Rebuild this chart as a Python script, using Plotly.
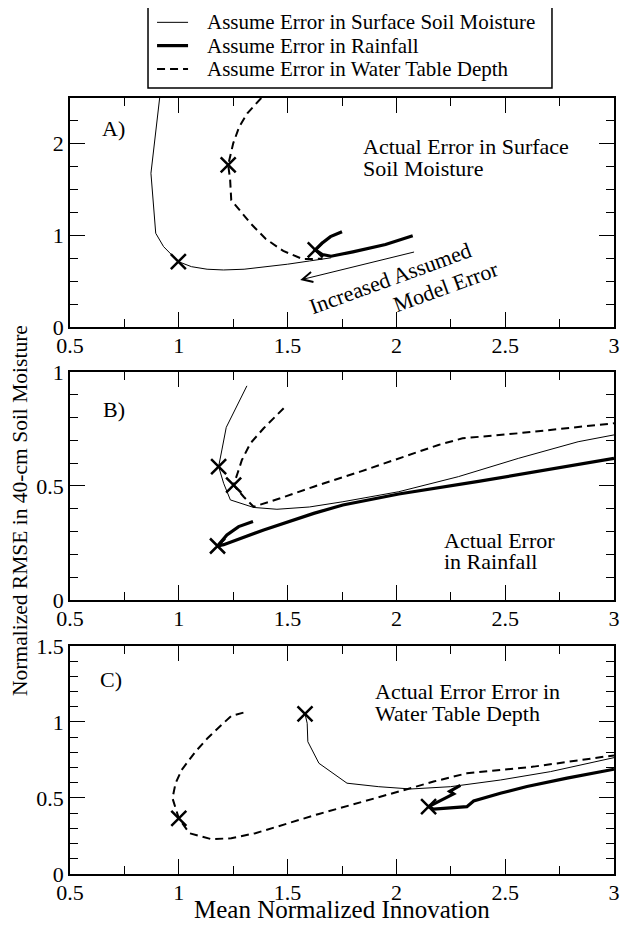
import plotly.graph_objects as go
from plotly.subplots import make_subplots

# panel A : actual error in surface soil moisture
a_soil_x = [0.912, 0.872, 0.894, 0.930, 0.998, 1.058, 1.130, 1.205, 1.300, 1.400, 1.500, 1.600, 1.700]
a_soil_y = [2.500, 1.678, 1.023, 0.877, 0.713, 0.658, 0.630, 0.622, 0.630, 0.655, 0.685, 0.720, 0.755]
a_rain_x = [1.750, 1.697, 1.658, 1.627, 1.660, 1.700, 1.800, 1.950, 2.075]
a_rain_y = [1.040, 0.986, 0.913, 0.841, 0.790, 0.772, 0.820, 0.900, 0.995]
a_wtd_x = [1.379, 1.315, 1.278, 1.250, 1.227, 1.236, 1.241, 1.330, 1.400, 1.480, 1.570, 1.660]
a_wtd_y = [2.500, 2.333, 2.187, 2.005, 1.769, 1.605, 1.386, 1.130, 0.960, 0.830, 0.740, 0.745]
a_mark_x = [0.998, 1.627, 1.227]
a_mark_y = [0.713, 0.841, 1.769]

# panel B : actual error in rainfall
b_soil_x = [1.313, 1.218, 1.198, 1.183, 1.206, 1.237, 1.344, 1.451, 1.600, 1.754, 2.011, 2.285, 2.560, 2.835, 3.000]
b_soil_y = [0.939, 0.757, 0.658, 0.585, 0.512, 0.439, 0.406, 0.398, 0.408, 0.431, 0.475, 0.541, 0.621, 0.694, 0.724]
b_rain_x = [1.341, 1.275, 1.221, 1.178, 1.206, 1.390, 1.620, 1.754, 2.011, 2.377, 3.000]
b_rain_y = [0.344, 0.322, 0.285, 0.237, 0.243, 0.307, 0.380, 0.417, 0.465, 0.520, 0.621]
b_wtd_x = [1.482, 1.443, 1.390, 1.329, 1.290, 1.270, 1.252, 1.298, 1.344, 1.466, 1.620, 1.834, 2.011, 2.193, 2.304, 2.560, 3.000]
b_wtd_y = [0.841, 0.804, 0.753, 0.687, 0.614, 0.556, 0.504, 0.453, 0.409, 0.446, 0.497, 0.563, 0.620, 0.680, 0.709, 0.731, 0.775]
b_mark_x = [1.183, 1.178, 1.252]
b_mark_y = [0.585, 0.237, 0.504]

# panel C : actual error in water table depth
c_soil_x = [1.580, 1.590, 1.593, 1.644, 1.773, 1.919, 2.066, 2.248, 2.478, 2.708, 3.000]
c_soil_y = [1.053, 0.991, 0.870, 0.728, 0.597, 0.574, 0.559, 0.574, 0.618, 0.673, 0.765]
c_rain_x = [2.294, 2.245, 2.263, 2.171, 2.148, 2.171, 2.324, 2.355, 2.478, 2.600, 2.784, 3.000]
c_rain_y = [0.583, 0.544, 0.527, 0.462, 0.443, 0.426, 0.443, 0.480, 0.531, 0.575, 0.630, 0.689]
c_wtd_x = [1.297, 1.241, 1.196, 1.132, 1.077, 1.013, 0.985, 0.971, 1.000, 1.049, 1.150, 1.241, 1.352, 1.644, 2.011, 2.171, 2.324, 2.631, 3.000]
c_wtd_y = [1.061, 1.039, 0.980, 0.893, 0.805, 0.684, 0.596, 0.498, 0.366, 0.268, 0.229, 0.235, 0.268, 0.395, 0.542, 0.608, 0.662, 0.706, 0.780]
c_mark_x = [1.580, 2.148, 1.000]
c_mark_y = [1.053, 0.443, 0.366]

names = ["Assume Error in Surface Soil Moisture",
         "Assume Error in Rainfall",
         "Assume Error in Water Table Depth"]

FONT = "Liberation Serif"

soil_line = dict(color = "black", width = 1)
rain_line = dict(color = "black", width = 3.2)
wtd_line = dict(color = "black", width = 2, dash = "8px,5px")

panels = [
    (a_soil_x, a_soil_y, a_rain_x, a_rain_y, a_wtd_x, a_wtd_y, a_mark_x, a_mark_y),
    (b_soil_x, b_soil_y, b_rain_x, b_rain_y, b_wtd_x, b_wtd_y, b_mark_x, b_mark_y),
    (c_soil_x, c_soil_y, c_rain_x, c_rain_y, c_wtd_x, c_wtd_y, c_mark_x, c_mark_y),
]

fig = make_subplots(rows = 3, cols = 1)

for i, p in enumerate(panels):
    row = i + 1
    sx, sy, rx, ry, wx, wy, mx, my = p

    fig.add_vline(x = 1, line_width = 1, line_color = "black", row = row, col = 1)

    fig.add_trace(go.Scatter(x = sx, y = sy, mode = "lines", line = soil_line,
                             name = names[0]), row = row, col = 1)
    fig.add_trace(go.Scatter(x = rx, y = ry, mode = "lines", line = rain_line,
                             name = names[1]), row = row, col = 1)
    fig.add_trace(go.Scatter(x = wx, y = wy, mode = "lines", line = wtd_line,
                             name = names[2]), row = row, col = 1)
    fig.add_trace(go.Scatter(x = mx, y = my, mode = "markers",
                             marker = dict(symbol = "x-thin", size = 15,
                                           line = dict(color = "black", width = 2.5))),
                  row = row, col = 1)

axis_style = dict(showline = True, linecolor = "black", linewidth = 1.5, mirror = "ticks",
                  ticks = "inside", ticklen = 15, tickwidth = 1.2, tickcolor = "black",
                  showgrid = False, zeroline = False,
                  tickfont = dict(family = FONT, size = 22, color = "black"))

for row in [1, 2, 3]:
    fig.update_xaxes(range = [0.5, 3], dtick = 0.5, ticklabelstandoff = -2,
                     minor = dict(dtick = 0.25, ticks = "inside", ticklen = 8, tickcolor = "black"),
                     row = row, col = 1, **axis_style)

fig.update_yaxes(range = [0, 2.5], dtick = 1,
                 minor = dict(dtick = 0.25, ticks = "inside", ticklen = 8, tickcolor = "black"),
                 row = 1, col = 1, **axis_style)
fig.update_yaxes(range = [0, 1], dtick = 0.5,
                 minor = dict(dtick = 0.1, ticks = "inside", ticklen = 8, tickcolor = "black"),
                 row = 2, col = 1, **axis_style)
fig.update_yaxes(range = [0, 1.5], dtick = 0.5,
                 minor = dict(dtick = 0.1, ticks = "inside", ticklen = 8, tickcolor = "black"),
                 row = 3, col = 1, **axis_style)

txt = dict(family = FONT, size = 22, color = "black")
notes = [
    ("x", "y", 0.70, 2.17, "A)", "center"),
    ("x", "y", 1.835, 1.965, "Actual Error in Surface", "left"),
    ("x", "y", 1.835, 1.725, "Soil Moisture", "left"),
    ("x2", "y2", 0.70, 0.836, "B)", "center"),
    ("x2", "y2", 2.211, 0.263, "Actual Error", "left"),
    ("x2", "y2", 2.211, 0.168, "in Rainfall", "left"),
    ("x3", "y3", 0.69, 1.276, "C)", "center"),
    ("x3", "y3", 1.892, 1.199, "Actual Error Error in", "left"),
    ("x3", "y3", 1.892, 1.057, "Water Table Depth", "left"),
]
for xr, yr, x, y, t, anchor in notes:
    fig.add_annotation(xref = xr, yref = yr, x = x, y = y, text = t, showarrow = False,
                       xanchor = anchor, yanchor = "middle", font = txt)

# arrow for increasing assumed error
fig.add_annotation(xref = "x", yref = "y", axref = "x", ayref = "y",
                   x = 1.558, y = 0.513, ax = 2.088, ay = 0.822, text = "",
                   showarrow = True, arrowhead = 5, arrowsize = 2, arrowwidth = 1,
                   arrowcolor = "black")
fig.add_annotation(xref = "x", yref = "y", x = 1.97, y = 0.53, text = "Increased Assumed",
                   showarrow = False, textangle = -20, font = txt)
fig.add_annotation(xref = "x", yref = "y", x = 2.23, y = 0.44, text = "Model Error",
                   showarrow = False, textangle = -20, font = txt)

fig.add_annotation(xref = "paper", yref = "paper", x = -0.092, y = 0.469,
                   text = "Normalized RMSE in 40-cm Soil Moisture", textangle = -90,
                   showarrow = False, xanchor = "center", yanchor = "middle",
                   font = dict(family = FONT, size = 21.5, color = "black"))
fig.add_annotation(xref = "paper", yref = "paper", x = 0.5, y = -0.046,
                   text = "Mean Normalized Innovation", showarrow = False,
                   xanchor = "center", yanchor = "middle",
                   font = dict(family = FONT, size = 25, color = "black"))

# boxed key above the top panel
fig.add_shape(type = "rect", xref = "paper", yref = "paper",
              x0 = 0.1434, x1 = 0.886, y0 = 1.0129, y1 = 1.1173,
              line = dict(color = "black", width = 1.5), fillcolor = "white")
key_y = [1.0975, 1.0675, 1.0375]
for ky, name, ln in zip(key_y, names, [soil_line, rain_line, wtd_line]):
    fig.add_shape(type = "line", xref = "paper", yref = "paper",
                  x0 = 0.160, x1 = 0.217, y0 = ky, y1 = ky, line = ln)
    fig.add_annotation(xref = "paper", yref = "paper", x = 0.248, y = ky, text = name,
                       showarrow = False, xanchor = "left", yanchor = "middle",
                       font = dict(family = FONT, size = 21, color = "black"))

# the page body adds 8px around the plot, margins take that into account
fig.update_layout(width = 628, height = 926, showlegend = False,
                  margin = dict(l = 62, r = 22, t = 90, b = 60),
                  paper_bgcolor = "white", plot_bgcolor = "white",
                  yaxis_domain = [0.705, 1.0],
                  yaxis2_domain = [0.353, 0.647],
                  yaxis3_domain = [0.0, 0.294],
                  font = dict(family = FONT, color = "black"))

fig.write_html("out.html")
